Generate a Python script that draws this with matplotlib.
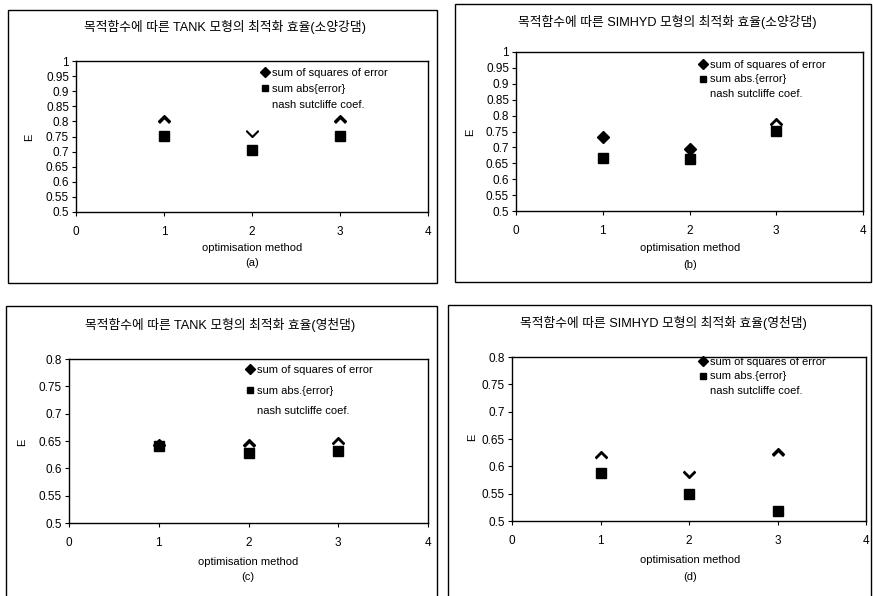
import numpy as np
import matplotlib
matplotlib.use("Agg")
import matplotlib.pyplot as plt
from matplotlib.patches import Rectangle

plt.rcParams['font.family'] = ['Liberation Sans', 'Noto Sans CJK KR', 'DejaVu Sans']

methods = [1, 2, 3]
series_labels = ["sum of squares of error", "sum abs{error}", "nash sutcliffe coef."]
series_labels_b = ["sum of squares of error", "sum abs.{error}", "nash sutcliffe coef."]

titles = ["목적함수에 따른 TANK 모형의 최적화 효율(소양강댐)",
          "목적함수에 따른 SIMHYD 모형의 최적화 효율(소양강댐)",
          "목적함수에 따른 TANK 모형의 최적화 효율(영천댐)",
          "목적함수에 따른 SIMHYD 모형의 최적화 효율(영천댐)"]
sublabels = ["(a)", "(b)", "(c)", "(d)"]

# values per panel
sq_a = [0.80, 0.768, 0.80]
abs_a = [0.752, 0.705, 0.753]
nash_a = [0.788, 0.776, 0.788]

sq_b = [0.733, 0.695, 0.775]
abs_b = [0.668, 0.664, 0.752]
nash_b = [np.nan, np.nan, 0.763]

sq_c = [0.643, 0.642, 0.647]
abs_c = [0.641, 0.628, 0.631]
nash_c = [np.nan, 0.636, 0.641]

sq_d = [0.617, 0.590, 0.622]
abs_d = [0.588, 0.549, 0.519]
nash_d = [0.611, 0.596, 0.616]

ylims = [(0.5, 1.0), (0.5, 1.0), (0.5, 0.8), (0.5, 0.8)]
xticks = [0, 1, 2, 3, 4]

W, H = 873, 596
fig = plt.figure(figsize=(W / 100, H / 100), dpi=100)

def fx(x):
    return x / W

def fy(y):
    return 1 - y / H

# panel borders (pixel coords: left, top, right, bottom)
borders = [(8, 10, 437, 283), (455, 4, 871, 282), (6, 306, 437, 600), (448, 305, 871, 600)]
for (l, t, r, b) in borders:
    fig.patches.append(Rectangle((fx(l), fy(b)), fx(r - l), (b - t) / H,
                                 transform=fig.transFigure, fill=False,
                                 edgecolor='black', linewidth=1.0))

axes_px = [(76, 61, 428, 212), (516, 52, 863, 211), (69, 359, 428, 523), (512, 357, 866, 521)]
title_pos = [(225, 27), (667, 22), (220, 325), (663, 323)]
xlab_pos = [(252, 248, 263), (690, 248, 265), (248, 562, 577), (690, 560, 577)]
ylab_pos = [(29, 137), (470, 132), (22, 442), (472, 437)]
leg_pos = [(262, 68), (700, 60), (247, 365), (700, 357)]
leg_spacing = [0.55, 0.4, 0.95, 0.4]

data = [(sq_a, abs_a, nash_a, series_labels),
        (sq_b, abs_b, nash_b, series_labels_b),
        (sq_c, abs_c, nash_c, series_labels_b),
        (sq_d, abs_d, nash_d, series_labels_b)]

for i in range(4):
    l, t, r, b = axes_px[i]
    ax = fig.add_axes([fx(l), fy(b), fx(r - l), (b - t) / H])
    sq, ab, na, labs = data[i]
    ax.plot(methods, sq, linestyle='none', marker='D', color='black', ms=6.5, label=labs[0], zorder=3)
    ax.plot(methods, na, linestyle='none', marker='D', markerfacecolor='white',
            markeredgecolor='none', ms=6.0, label=labs[2], zorder=4)
    ax.plot(methods, ab, linestyle='none', marker='s', color='black', ms=6.5, label=labs[1], zorder=5)
    ax.set_xlim(0, 4)
    ax.set_ylim(*ylims[i])
    ax.set_xticks(xticks)
    ax.set_xticklabels([str(v) for v in xticks])
    yt = np.round(np.arange(ylims[i][0], ylims[i][1] + 0.001, 0.05), 2)
    ax.set_yticks(yt)
    ax.set_yticklabels(['%g' % v for v in yt])
    ax.tick_params(axis='both', labelsize=8.5, length=3, width=0.8, direction='out', pad=2)
    ax.tick_params(axis='x', pad=7)
    for s in ax.spines.values():
        s.set_linewidth(1.0)
    h, lb = ax.get_legend_handles_labels()
    order = [0, 2, 1]
    h = [h[k] for k in order]
    lb = [lb[k] for k in order]
    lx, ly = leg_pos[i]
    ax.legend(h, lb, loc='upper left', bbox_to_anchor=(fx(lx), fy(ly)),
              bbox_transform=fig.transFigure, frameon=False, fontsize=8,
              handlelength=0.6, handletextpad=0.3, borderpad=0, borderaxespad=0,
              labelspacing=leg_spacing[i], markerscale=0.75)
    tx, ty = title_pos[i]
    fig.text(fx(tx), fy(ty), titles[i], ha='center', va='center', fontsize=9.2)
    xx, y1, y2 = xlab_pos[i]
    fig.text(fx(xx), fy(y1), "optimisation method", ha='center', va='center', fontsize=8)
    fig.text(fx(xx), fy(y2), sublabels[i], ha='center', va='center', fontsize=8)
    ex, ey = ylab_pos[i]
    fig.text(fx(ex), fy(ey), "E", ha='center', va='center', fontsize=8, rotation=90)

fig.savefig("out.png", dpi=100)
